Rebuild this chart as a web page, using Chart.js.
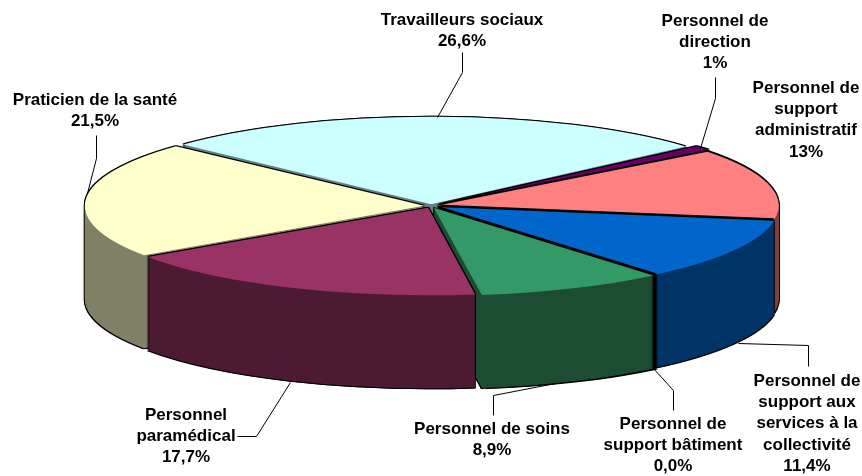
<!DOCTYPE html>
<html lang="fr">
<head>
<meta charset="utf-8">
<title>Répartition du personnel</title>
<script src="https://cdn.jsdelivr.net/npm/chart.js@4"></script>
<style>
  html, body { margin: 0; padding: 0; background: #fff; }
  canvas { display: block; }
</style>
</head>
<body>
<canvas id="pie" width="862" height="476"></canvas>
<script>
// Order follows the pie clockwise, starting at Travailleurs sociaux
const CATEGORIES = [
  'Travailleurs sociaux',
  'Personnel de direction',
  'Personnel de support administratif',
  'Personnel de support aux services à la collectivité',
  'Personnel de support bâtiment',
  'Personnel de soins',
  'Personnel paramédical',
  'Praticien de la santé',
];
const VALUES = [26.6, 1, 13, 11.4, 0, 8.9, 17.7, 21.5];
const VALUE_LABELS = ['26,6%', '1%', '13%', '11,4%', '0,0%', '8,9%', '17,7%', '21,5%'];

const TOP_COLORS  = ['#ccffff', '#660066', '#ff8080', '#0066cc', '#000000', '#339966', '#993366', '#ffffcc'];
const WALL_COLORS = ['#668080', '#330033', '#804040', '#003366', '#000000', '#1c4d33', '#4d1a33', '#808066'];

// how each label wraps on the picture
const LABEL_LINES = [
  ['Travailleurs sociaux'],
  ['Personnel de', 'direction'],
  ['Personnel de', 'support', 'administratif'],
  ['Personnel de', 'support aux', 'services à la', 'collectivité'],
  ['Personnel de', 'support bâtiment'],
  ['Personnel de soins'],
  ['Personnel', 'paramédical'],
  ['Praticien de la santé'],
];
const LABEL_X = [462, 715, 806, 807, 673, 492, 186, 95];
const LABEL_Y = [20, 21, 88, 381, 424, 429, 415, 100];
const LINE_H = 21.3;

const LEADERS = [
  [[462, 52], [462, 72], [437, 117]],
  [[715, 77], [715, 98], [700, 148]],
  [],
  [[808, 366], [808, 345], [738, 343]],
  [[673, 410], [673, 390], [653, 368]],
  [[493, 415], [493, 395], [555, 383]],
  [[237, 436], [256, 436], [290, 382]],
  [[96, 135], [96, 158], [87, 193]],
];

const CENTER_X = 431;
const CENTER_Y = 206;
const SQUASH = 0.258;
const DEPTH = 93;
const EDGE = 1;
// the cut faces on the right of the pie come out black in the original
const BLACK_CUT_UP = [0, 0, 2, 2.5, 0, 2, 0, 0];
const BLACK_CUT_RIGHT = [0, 0, 0, 0, 0, 3.5, 0, 0];

const wallLayer = document.createElement('canvas');
wallLayer.width = 862;
wallLayer.height = 476;

function drawArcAt(ctx, arc, color, dx, dy) {
  const saved = arc.options;
  arc.options = { ...saved, backgroundColor: color, borderWidth: 0 };
  ctx.save();
  ctx.translate(CENTER_X + dx, CENTER_Y + dy);
  ctx.scale(1, SQUASH);
  ctx.translate(-arc.x, -arc.y);
  arc.draw(ctx);
  ctx.restore();
  arc.options = saved;
}

// stacked layers drift in colour along their edges, so stack them off screen and repaint flat
function drawWall(ctx, arc, color) {
  const wall = wallLayer.getContext('2d');
  wall.clearRect(0, 0, 862, 476);
  for (let d = DEPTH; d > 0; d--) {
    drawArcAt(wall, arc, color, 0, d);
  }
  wall.save();
  wall.globalCompositeOperation = 'source-in';
  wall.fillStyle = color;
  wall.fillRect(0, 0, 862, 476);
  wall.restore();
  ctx.drawImage(wallLayer, 0, 0);
}

function drawSlice(ctx, arc, i) {
  // black silhouette first, the coloured layers then leave only its rim
  for (let d = DEPTH + EDGE; d >= -EDGE; d--) {
    drawArcAt(ctx, arc, '#000', -EDGE, d);
    drawArcAt(ctx, arc, '#000', EDGE + BLACK_CUT_RIGHT[i], d);
  }
  if (BLACK_CUT_UP[i]) {
    drawArcAt(ctx, arc, '#000', BLACK_CUT_RIGHT[i], -BLACK_CUT_UP[i]);
  }
  drawWall(ctx, arc, WALL_COLORS[i]);
  drawArcAt(ctx, arc, TOP_COLORS[i], 0, 0);
}

function drawLabels(ctx) {
  ctx.save();
  ctx.strokeStyle = '#000';
  ctx.lineWidth = 1;
  LEADERS.forEach(points => {
    if (!points.length) return;
    ctx.beginPath();
    points.forEach(([x, y], n) => n ? ctx.lineTo(x + 0.5, y + 0.5) : ctx.moveTo(x + 0.5, y + 0.5));
    ctx.stroke();
  });
  ctx.fillStyle = '#000';
  ctx.font = 'bold 17px "Liberation Sans", Arial, sans-serif';
  ctx.textAlign = 'center';
  ctx.textBaseline = 'middle';
  LABEL_LINES.forEach((lines, i) => {
    [...lines, VALUE_LABELS[i]].forEach((text, n) => {
      ctx.fillText(text, LABEL_X[i], LABEL_Y[i] + n * LINE_H);
    });
  });
  ctx.restore();
}

const pie3d = {
  id: 'pie3d',
  beforeDatasetsDraw(chart) {
    const ctx = chart.ctx;
    const arcs = chart.getDatasetMeta(0).data;
    const backToFront = arcs
      .map((arc, i) => ({ arc, i }))
      .filter(({ arc }) => arc.circumference > 0)
      .sort((a, b) => Math.sin((a.arc.startAngle + a.arc.endAngle) / 2) - Math.sin((b.arc.startAngle + b.arc.endAngle) / 2));
    backToFront.forEach(({ arc, i }) => drawSlice(ctx, arc, i));
    drawLabels(ctx);
    return false;
  },
};

new Chart(document.getElementById('pie'), {
  type: 'pie',
  data: {
    labels: CATEGORIES,
    datasets: [{ data: VALUES, backgroundColor: TOP_COLORS, borderWidth: 0, offset: 28 }],
  },
  options: {
    responsive: false,
    animation: false,
    radius: 339,
    rotation: -47,
    layout: { padding: 0 },
    plugins: { legend: { display: false }, tooltip: { enabled: false } },
  },
  plugins: [pie3d],
});
</script>
</body>
</html>
